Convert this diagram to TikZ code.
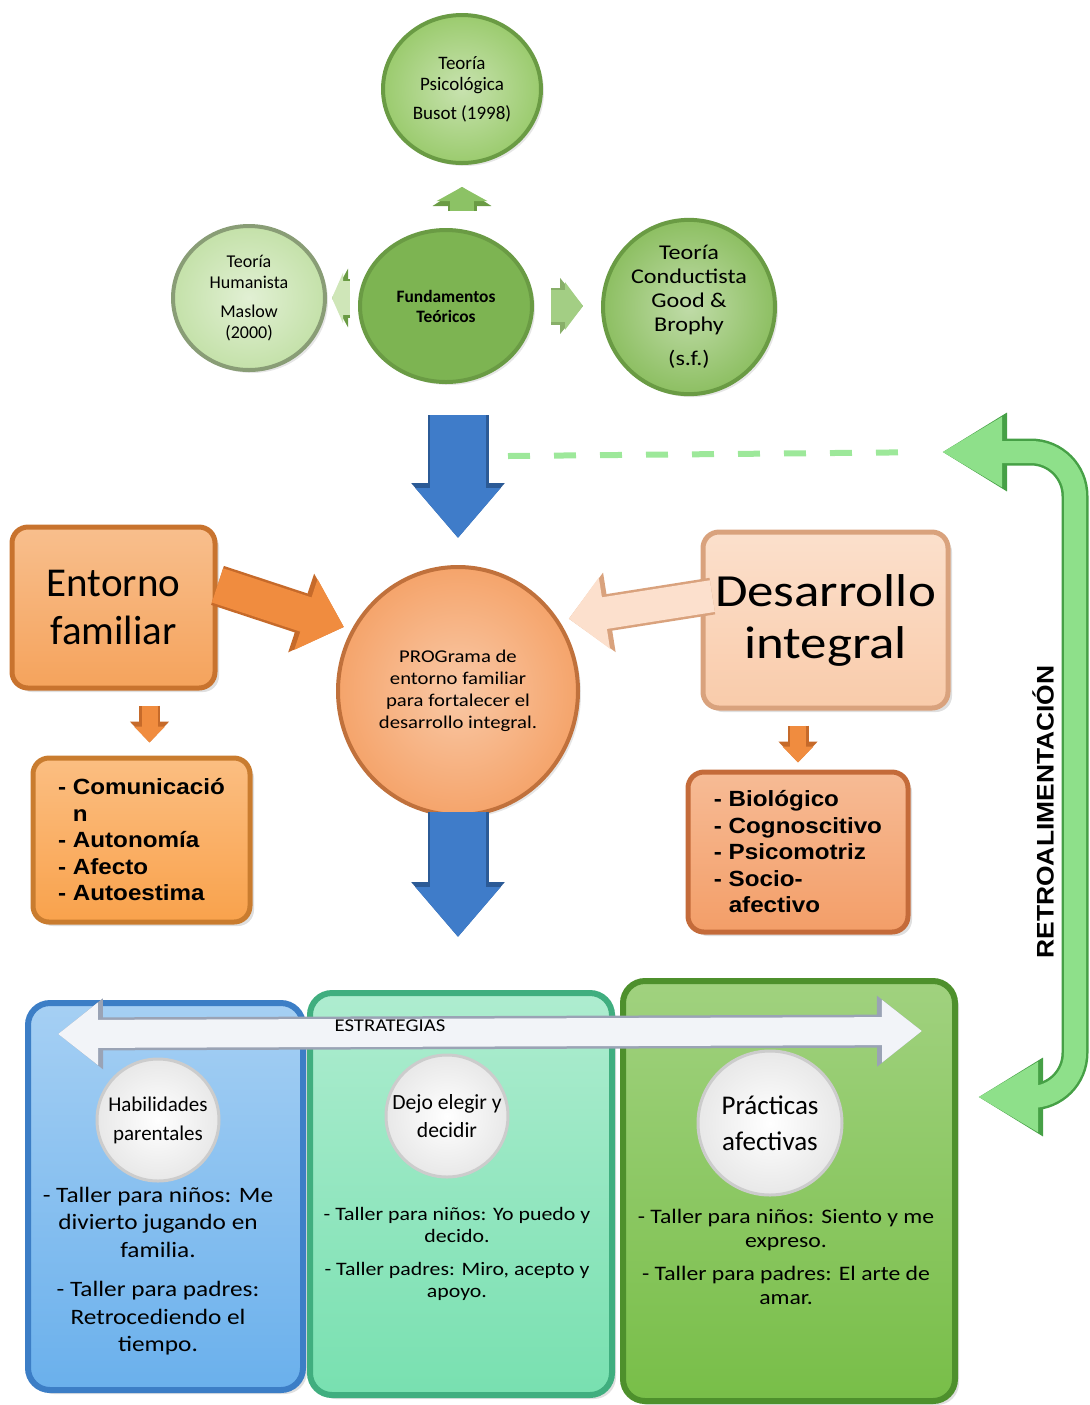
\documentclass[tikz,border=0pt]{standalone}
\usepackage{fontspec}
\setmainfont{Carlito}
\newfontfamily\widefont[FakeStretch=1.15]{Carlito}
\newfontfamily\arialfont[FakeStretch=1.1]{Liberation Sans}
\usetikzlibrary{arrows.meta,shapes.geometric,shadows,positioning}

\definecolor{grnA}{HTML}{9BCB6E}
\definecolor{grnB}{HTML}{7DB452}
\definecolor{grnC}{HTML}{C4E1A9}
\definecolor{grnD}{HTML}{8DBF62}
\definecolor{grnRim}{HTML}{6A9B44}
\definecolor{grnArr}{HTML}{8CC265}
\definecolor{grnPale}{HTML}{CFE6B8}
\definecolor{blueArr}{HTML}{3F7CC9}
\definecolor{blueRim}{HTML}{2B5A96}
\definecolor{orEnt}{HTML}{F5A35C}
\definecolor{orEntRim}{HTML}{C8732E}
\definecolor{orArr}{HTML}{F08C3F}
\definecolor{orArrRim}{HTML}{C66A2A}
\definecolor{orProg}{HTML}{F5A46B}
\definecolor{orProgRim}{HTML}{C0713C}
\definecolor{peachDes}{HTML}{F9CBAA}
\definecolor{peachRim}{HTML}{D9A27D}
\definecolor{peachArr}{HTML}{FCE0CD}
\definecolor{orCom}{HTML}{F9A24C}
\definecolor{orComRim}{HTML}{C97C2F}
\definecolor{orBio}{HTML}{F39E68}
\definecolor{orBioRim}{HTML}{C46B3A}
\definecolor{pnlBlue}{HTML}{6AB0EC}
\definecolor{pnlBlueRim}{HTML}{3C7EC6}
\definecolor{pnlTeal}{HTML}{78E0B0}
\definecolor{pnlTealRim}{HTML}{40AE7F}
\definecolor{pnlGreen}{HTML}{78BE48}
\definecolor{pnlGreenRim}{HTML}{4E902C}
\definecolor{fbGreen}{HTML}{8EE08A}
\definecolor{fbRim}{HTML}{46A046}
\definecolor{dashGrn}{HTML}{9DE89A}
\definecolor{estFill}{HTML}{F2F4F8}
\definecolor{estRim}{HTML}{9AA3B5}

\newcommand{\fsz}[2]{\fontsize{#1}{#2}\selectfont}

\tikzstyle{teo}=[ellipse, line width=2pt, align=center, inner sep=0pt,
                drop shadow={opacity=0.2,shadow xshift=1.5pt,shadow yshift=-1.5pt}]
\tikzstyle{caja}=[rectangle, rounded corners=8pt, line width=2.5pt, align=center, inner sep=0pt,
                drop shadow={opacity=0.25,shadow xshift=2pt,shadow yshift=-2pt}]
\tikzstyle{panel}=[rectangle, rounded corners=11pt, line width=3pt, inner sep=0pt,
                drop shadow={opacity=0.25,shadow xshift=2pt,shadow yshift=-2pt}]
\tikzstyle{disco}=[circle, inner sep=0pt, align=center, draw=gray!40, line width=1.5pt,
                inner color=white, outer color=gray!18]
\tikzstyle{dashline}=[draw=dashGrn, line width=3pt, dash pattern=on 11pt off 12pt]

% fill, rim, shaft, head width, head length
\tikzset{
  fat/.style n args={5}{draw=#1, line width=#3, -{Triangle[width=#4,length=#5]},
    preaction={draw=#2, line width=#3+2.5pt, -{Triangle[width=#4+4pt,length=#5+2.5pt]}}},
  fatboth/.style n args={5}{draw=#1, line width=#3,
    {Triangle[width=#4,length=#5]}-{Triangle[width=#4,length=#5]},
    preaction={draw=#2, line width=#3+2.5pt,
      {Triangle[width=#4+4pt,length=#5+2.5pt]}-{Triangle[width=#4+4pt,length=#5+2.5pt]}}}
}

\begin{document}
\begin{tikzpicture}[x=0.5pt,y=-0.5pt]
\useasboundingbox (0,0) rectangle (1089,1405);

% fundamentos
\node[teo, fill=grnB, draw=grnRim, minimum width=86pt, minimum height=76pt,
      font={\fsz{8.7}{10}\bfseries}] (fund) at (446,306) {Fundamentos\\Teóricos};
\node[teo, inner color=grnA!55!white, outer color=grnA, draw=grnRim, minimum width=79pt,
      minimum height=74pt, font={\fsz{9.5}{10.5}}] (psico) at (462,89)
      {Teoría\\Psicológica\\[4pt]Busot (1998)};
\node[teo, inner color=grnC!50!white, outer color=grnC, draw=grnC!70!black, minimum width=76pt,
      minimum height=72pt, font={\fsz{9}{10.5}}] (human) at (249,298)
      {Teoría\\Humanista\\[4pt]Maslow\\(2000)};
\node[teo, inner color=grnD!55!white, outer color=grnD, draw=grnRim, minimum width=86pt,
      minimum height=78pt, font={\widefont\fsz{10.5}{12}}] (cond) at (689,307)
      {Teoría\\Conductista\\Good \&\\Brophy\\[5pt](s.f.)};

% programa
\node[caja, top color=orEnt!70!white, bottom color=orEnt, draw=orEntRim, minimum width=101.5pt,
      minimum height=80.5pt, font={\fsz{20.5}{24}}] (entorno) at (113.5,607.5) {Entorno\\familiar};
\node[teo, inner color=orProg!60!white, outer color=orProg, draw=orProgRim, minimum width=120pt,
      minimum height=124pt, font={\widefont\fsz{9}{11}}] (prog) at (458,691)
      {PROGrama de\\entorno familiar\\para fortalecer el\\desarrollo integral.};
\node[caja, top color=peachDes!60!white, bottom color=peachDes, draw=peachRim, minimum width=122.5pt,
      minimum height=88pt, font={\widefont\fsz{23}{26}}] (desarrollo) at (825.5,620) {Desarrollo\\integral};
\node[caja, top color=orCom!70!white, bottom color=orCom, draw=orComRim, minimum width=108.5pt,
      minimum height=82pt, align=left, font={\arialfont\bfseries\fsz{11}{13.25}}] (comun) at (141.5,840)
      {- Comunicació\\\phantom{- }n\\- Autonomía\\- Afecto\\- Autoestima};
\node[caja, top color=orBio!70!white, bottom color=orBio, draw=orBioRim, minimum width=110pt,
      minimum height=80pt, align=left, font={\arialfont\bfseries\fsz{11}{13.25}}] (biol) at (798,852)
      {- Biológico\\- Cognoscitivo\\- Psicomotriz\\- Socio-\\\phantom{- }afectivo};

% estrategias
\node[panel, top color=pnlBlue!60!white, bottom color=pnlBlue, draw=pnlBlueRim,
      minimum width=137.5pt, minimum height=193.5pt] (panA) at (165.5,1196.5) {};
\node[panel, top color=pnlTeal!60!white, bottom color=pnlTeal, draw=pnlTealRim,
      minimum width=151pt, minimum height=201pt] (panB) at (461,1194) {};
\node[panel, top color=pnlGreen!70!white, bottom color=pnlGreen, draw=pnlGreenRim,
      minimum width=166pt, minimum height=210pt] (panC) at (789,1191) {};

\node[disco, minimum size=61pt, font={\fsz{10.5}{14.5}}] (habil) at (158,1120) {Habilidades\\parentales};
\node[disco, minimum size=61pt, font={\fsz{10.8}{14}}] (dejo) at (447,1116) {Dejo elegir y\\decidir};
\node[disco, minimum size=72pt, font={\fsz{13.5}{18}}] (pract) at (770,1123) {Prácticas\\afectivas};

\node[below=2pt of habil, inner sep=0pt, align=center, font={\widefont\fsz{11}{13.75}}] (tallA)
      {- Taller para niños: Me\\divierto jugando en\\familia.\\[6pt]- Taller para padres:\\Retrocediendo el\\tiempo.};
\node[below=14pt of dejo, xshift=5pt, inner sep=0pt, align=center, font={\widefont\fsz{9.5}{11}}] (tallB)
      {- Taller para niños: Yo puedo y\\decido.\\[5.5pt]- Taller padres: Miro, acepto y\\apoyo.};
\node[below=6pt of pract, xshift=8pt, inner sep=0pt, align=center, font={\widefont\fsz{10.3}{12}}] (tallC)
      {- Taller para niños: Siento y me\\expreso.\\[4.5pt]- Taller para padres: El arte de\\amar.};

\coordinate (estL) at (58,1034);
\coordinate (estR) at (922,1031);
\draw[fatboth={estFill}{estRim}{14pt}{30pt}{20pt}] (estL) -- (estR);
\node[font={\widefont\fsz{9}{10}}] (estlbl) at (390,1026) {ESTRATEGIAS};

% flechas entre nodos
\draw[fat={grnArr}{grnRim}{12pt}{25pt}{7pt}, shorten <=8.5pt, shorten >=11pt]
     (psico.south |- fund.north) -- (psico.south);
\draw[fat={grnPale}{grnRim}{17pt}{25pt}{5.5pt}, shorten <=4pt, shorten >=2.5pt]
     (human.east -| fund.west) -- (human.east);
\draw[fat={grnArr!80!white}{grnRim!80}{16pt}{23.5pt}{9pt}, shorten <=8.5pt, shorten >=9pt]
     (fund.east) -- (fund.east -| cond.west);
\draw[fat={blueArr}{blueRim}{28pt}{41pt}{25pt}, shorten <=15.5pt, shorten >=13.5pt]
     (prog.north |- fund.south) -- (prog.north);
\draw[fat={blueArr}{blueRim}{28pt}{41pt}{25pt}, shorten <=-2.5pt, shorten >=26.5pt]
     (prog.south) -- (prog.south |- panB.north);
\draw[fat={orArr}{orArrRim}{18pt}{36pt}{20pt}, shorten >=4pt] (entorno.12) -- (prog.150);
\draw[fat={peachArr}{peachRim}{16pt}{35pt}{18pt}, shorten <=-6pt, shorten >=5pt] (desarrollo.170) -- (prog.35);
\draw[fat={orArr}{orArrRim}{8pt}{15pt}{8pt}, shorten <=7.5pt, shorten >=6.5pt]
     ([xshift=4pt]entorno.south -| comun.north) -- ([xshift=4pt]comun.north);
\draw[fat={orArr}{orArrRim}{8pt}{15pt}{8pt}, shorten <=7.5pt, shorten >=3.5pt]
     (desarrollo.south -| biol.north) -- (biol.north);

% retroalimentacion
\coordinate (dashL) at (508,456);
\coordinate (fbtop) at (942,452);
\coordinate (fbrail) at (1075,770);
\coordinate (fbbot) at (978,1097);
\draw[dashline, shorten >=12pt] (dashL) -- (fbtop);
\draw[fatboth={fbGreen}{fbRim}{11pt}{33pt}{30pt}, rounded corners=22pt]
     (fbtop) -| (fbrail) |- (fbbot);
\node[rotate=90, font={\arialfont\bfseries\fsz{12}{14}}] (retro) at (1043,812) {RETROALIMENTACIÓN};
\end{tikzpicture}
\end{document}
